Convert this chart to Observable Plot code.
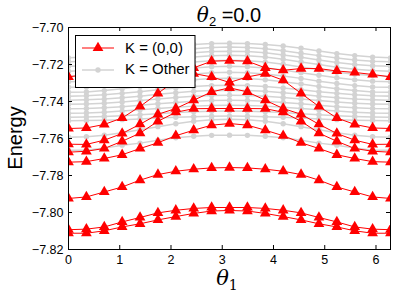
<!DOCTYPE html>
<html><head><meta charset="utf-8">
<script src="https://cdn.jsdelivr.net/npm/d3@7"></script>
<script src="https://cdn.jsdelivr.net/npm/@observablehq/plot@0.6"></script>
<style>html,body{margin:0;padding:0;background:#fff} svg{display:block}</style>
</head><body><div id="chart"></div>
<script>
// θ1 sample points (0 … 2π, 19 points)
const theta1 = [0, 0.349, 0.698, 1.047, 1.396, 1.745, 2.094, 2.443, 2.793, 3.142, 3.491, 3.840, 4.189, 4.538, 4.887, 5.236, 5.585, 5.934, 6.283];
const xTicks = [0, 1, 2, 3, 4, 5, 6];
const yTicks = [-7.82, -7.80, -7.78, -7.76, -7.74, -7.72, -7.70];

// K = (0,0) levels (red)
const red1 = [-7.8112, -7.8112, -7.8099, -7.8078, -7.8061, -7.8040, -7.8022, -7.8005, -7.7992, -7.7989, -7.7992, -7.8005, -7.8022, -7.8040, -7.8061, -7.8078, -7.8099, -7.8112, -7.8112];
const red2 = [-7.8093, -7.8090, -7.8078, -7.8051, -7.8027, -7.8002, -7.7988, -7.7978, -7.7973, -7.7973, -7.7973, -7.7978, -7.7988, -7.8002, -7.8027, -7.8051, -7.8078, -7.8090, -7.8093];
const red3 = [-7.7924, -7.7916, -7.7889, -7.7862, -7.7825, -7.7795, -7.7777, -7.7766, -7.7759, -7.7757, -7.7759, -7.7766, -7.7777, -7.7795, -7.7825, -7.7862, -7.7889, -7.7916, -7.7924];
const red4 = [-7.7728, -7.7725, -7.7708, -7.7688, -7.7654, -7.7623, -7.7585, -7.7555, -7.7528, -7.7519, -7.7528, -7.7555, -7.7585, -7.7623, -7.7654, -7.7688, -7.7708, -7.7725, -7.7728];
const red5 = [-7.7674, -7.7669, -7.7654, -7.7615, -7.7571, -7.7507, -7.7458, -7.7439, -7.7438, -7.7438, -7.7438, -7.7439, -7.7458, -7.7507, -7.7571, -7.7615, -7.7654, -7.7669, -7.7674];
const red6 = [-7.7631, -7.7632, -7.7609, -7.7573, -7.7523, -7.7469, -7.7438, -7.7393, -7.7348, -7.7326, -7.7348, -7.7393, -7.7438, -7.7469, -7.7523, -7.7573, -7.7609, -7.7632, -7.7631];
const red7 = [-7.7546, -7.7543, -7.7524, -7.7489, -7.7427, -7.7356, -7.7285, -7.7249, -7.7267, -7.7297, -7.7267, -7.7249, -7.7285, -7.7356, -7.7427, -7.7489, -7.7524, -7.7543, -7.7546];
const red8 = [-7.7267, -7.7254, -7.7243, -7.7235, -7.7222, -7.7222, -7.7231, -7.7218, -7.7182, -7.7179, -7.7182, -7.7218, -7.7231, -7.7222, -7.7222, -7.7235, -7.7243, -7.7254, -7.7267];

// K = Other levels (gray)
const gray1 = [-7.7164, -7.7160, -7.7152, -7.7141, -7.7127, -7.7112, -7.7100, -7.7092, -7.7087, -7.7085, -7.7087, -7.7092, -7.7100, -7.7112, -7.7127, -7.7141, -7.7152, -7.7160, -7.7164];
const gray2 = [-7.7185, -7.7183, -7.7176, -7.7165, -7.7152, -7.7139, -7.7126, -7.7115, -7.7108, -7.7106, -7.7108, -7.7115, -7.7126, -7.7139, -7.7152, -7.7165, -7.7176, -7.7183, -7.7185];
const gray3 = [-7.7209, -7.7207, -7.7200, -7.7189, -7.7176, -7.7161, -7.7148, -7.7137, -7.7130, -7.7128, -7.7130, -7.7137, -7.7148, -7.7161, -7.7176, -7.7189, -7.7200, -7.7207, -7.7209];
const gray4 = [-7.7236, -7.7233, -7.7226, -7.7215, -7.7200, -7.7186, -7.7172, -7.7160, -7.7153, -7.7150, -7.7153, -7.7160, -7.7172, -7.7186, -7.7200, -7.7215, -7.7226, -7.7233, -7.7236];
const gray5 = [-7.7263, -7.7260, -7.7253, -7.7242, -7.7227, -7.7213, -7.7199, -7.7187, -7.7180, -7.7177, -7.7180, -7.7187, -7.7199, -7.7213, -7.7227, -7.7242, -7.7253, -7.7260, -7.7263];
const gray6 = [-7.7293, -7.7290, -7.7283, -7.7272, -7.7258, -7.7244, -7.7230, -7.7219, -7.7212, -7.7209, -7.7212, -7.7219, -7.7230, -7.7244, -7.7258, -7.7272, -7.7283, -7.7290, -7.7293];
const gray7 = [-7.7323, -7.7321, -7.7314, -7.7303, -7.7290, -7.7275, -7.7262, -7.7251, -7.7244, -7.7242, -7.7244, -7.7251, -7.7262, -7.7275, -7.7290, -7.7303, -7.7314, -7.7321, -7.7323];
const gray8 = [-7.7350, -7.7348, -7.7341, -7.7331, -7.7319, -7.7305, -7.7293, -7.7283, -7.7276, -7.7274, -7.7276, -7.7283, -7.7293, -7.7305, -7.7319, -7.7331, -7.7341, -7.7348, -7.7350];
const gray9 = [-7.7371, -7.7369, -7.7364, -7.7356, -7.7347, -7.7336, -7.7327, -7.7319, -7.7314, -7.7312, -7.7314, -7.7319, -7.7327, -7.7336, -7.7347, -7.7356, -7.7364, -7.7369, -7.7371];
const gray10 = [-7.7393, -7.7391, -7.7387, -7.7380, -7.7371, -7.7361, -7.7353, -7.7345, -7.7341, -7.7339, -7.7341, -7.7345, -7.7353, -7.7361, -7.7371, -7.7380, -7.7387, -7.7391, -7.7393];
const gray11 = [-7.7415, -7.7413, -7.7409, -7.7403, -7.7395, -7.7386, -7.7378, -7.7372, -7.7367, -7.7366, -7.7367, -7.7372, -7.7378, -7.7386, -7.7395, -7.7403, -7.7409, -7.7413, -7.7415];
const gray12 = [-7.7439, -7.7438, -7.7434, -7.7428, -7.7420, -7.7412, -7.7405, -7.7398, -7.7394, -7.7393, -7.7394, -7.7398, -7.7405, -7.7412, -7.7420, -7.7428, -7.7434, -7.7438, -7.7439];
const gray13 = [-7.7463, -7.7462, -7.7458, -7.7452, -7.7445, -7.7438, -7.7431, -7.7425, -7.7421, -7.7420, -7.7421, -7.7425, -7.7431, -7.7438, -7.7445, -7.7452, -7.7458, -7.7462, -7.7463];
const gray14 = [-7.7485, -7.7484, -7.7481, -7.7477, -7.7471, -7.7466, -7.7460, -7.7456, -7.7453, -7.7452, -7.7453, -7.7456, -7.7460, -7.7466, -7.7471, -7.7477, -7.7481, -7.7484, -7.7485];
const gray15 = [-7.7504, -7.7503, -7.7501, -7.7498, -7.7494, -7.7489, -7.7485, -7.7482, -7.7480, -7.7479, -7.7480, -7.7482, -7.7485, -7.7489, -7.7494, -7.7498, -7.7501, -7.7503, -7.7504];
const gray16 = [-7.7593, -7.7590, -7.7582, -7.7569, -7.7553, -7.7536, -7.7520, -7.7507, -7.7499, -7.7496, -7.7499, -7.7507, -7.7520, -7.7536, -7.7553, -7.7569, -7.7582, -7.7590, -7.7593];
const gray17 = [-7.7663, -7.7663, -7.7652, -7.7636, -7.7625, -7.7609, -7.7596, -7.7588, -7.7583, -7.7582, -7.7583, -7.7588, -7.7596, -7.7609, -7.7625, -7.7636, -7.7652, -7.7663, -7.7663];

const redLevels = [red1, red2, red3, red4, red5, red6, red7, red8];
const grayLevels = [gray1, gray2, gray3, gray4, gray5, gray6, gray7, gray8, gray9, gray10, gray11, gray12, gray13, gray14, gray15, gray16, gray17];

function rows(levels) {
  return levels.flatMap((vals, i) => vals.map((e, j) => ({theta: theta1[j], energy: e, level: i})));
}
const redData = rows(redLevels);
const grayData = rows(grayLevels);

const W = 399, H = 299, mL = 68, mR = 9, mT = 27, mB = 50;
const fW = W - mL - mR, fH = H - mT - mB, tk = 4;
const RED = "#ff0000", GRAY = "#d3d3d3";
const TRI_R = 4;

const svgEl = Plot.plot({
  width: W, height: H,
  marginLeft: mL, marginRight: mR, marginTop: mT, marginBottom: mB,
  style: {fontFamily: "'Liberation Sans', Arial, sans-serif", fontSize: "12.5px", color: "black", background: "white"},
  x: {domain: [0, 2 * Math.PI], ticks: xTicks, tickFormat: d => String(d), tickSize: 0, tickPadding: 6, label: null},
  y: {domain: [-7.82, -7.70], ticks: yTicks, tickFormat: d => "\u2212" + Math.abs(d).toFixed(2), tickSize: 0, tickPadding: 5, label: null},
  marks: [
    Plot.line(grayData, {x: "theta", y: "energy", z: "level", stroke: GRAY, strokeWidth: 1.5, clip: true}),
    Plot.dot(grayData, {x: "theta", y: "energy", r: 2.7, fill: GRAY, stroke: "none", clip: true}),
    Plot.line(redData, {x: "theta", y: "energy", z: "level", stroke: RED, strokeWidth: 1, clip: true}),
    Plot.dot(redData, {x: "theta", y: "energy", symbol: "triangle", r: TRI_R, fill: RED, stroke: "none", clip: true}),
    Plot.tickX(xTicks, {x: d => d, insetTop: fH - tk, stroke: "black"}),
    Plot.tickX(xTicks, {x: d => d, insetBottom: fH - tk, stroke: "black"}),
    Plot.tickY(yTicks, {y: d => d, insetRight: fW - tk, stroke: "black"}),
    Plot.tickY(yTicks, {y: d => d, insetLeft: fW - tk, stroke: "black"}),
    Plot.frame({stroke: "black"})
  ]
});
document.getElementById("chart").appendChild(svgEl);

const svg = d3.select(svgEl);
const sans = "'Liberation Sans', Arial, sans-serif";
const serif = "'DejaVu Serif', 'Liberation Serif', serif";

// Title
const title = svg.append("text").attr("x", mL + fW / 2).attr("y", 22).attr("text-anchor", "middle")
  .style("font-family", sans).style("font-size", "20px").attr("fill", "black");
title.append("tspan").text("θ").style("font-family", serif).style("font-style", "italic");
title.append("tspan").text("2").style("font-size", "13px").attr("dy", 4);
title.append("tspan").text(" =0.0").attr("dy", -4);

// x label
const xl = svg.append("text").attr("x", mL + fW / 2 - 2).attr("y", 285).attr("text-anchor", "middle")
  .style("font-family", serif).style("font-size", "21px").attr("fill", "black");
xl.append("tspan").text("θ").style("font-style", "italic");
xl.append("tspan").text("1").style("font-size", "14px").attr("dy", 5);

// y label
svg.append("text").attr("transform", `translate(22,${mT + fH / 2}) rotate(-90)`).attr("text-anchor", "middle")
  .style("font-family", sans).style("font-size", "20px").attr("fill", "black").text("Energy");

// Legend
const lg = svg.append("g");
lg.append("rect").attr("x", 75.5).attr("y", 35.5).attr("width", 119.5).attr("height", 52)
  .attr("fill", "white").attr("stroke", "black");
lg.append("line").attr("x1", 82).attr("x2", 114).attr("y1", 48).attr("y2", 48).attr("stroke", RED).attr("stroke-width", 1);
lg.append("path").attr("d", d3.symbol(d3.symbolTriangle, Math.PI * TRI_R * TRI_R)()).attr("transform", "translate(98,48)").attr("fill", RED);
lg.append("line").attr("x1", 82).attr("x2", 114).attr("y1", 70).attr("y2", 70).attr("stroke", GRAY).attr("stroke-width", 1.5);
lg.append("circle").attr("cx", 98).attr("cy", 70).attr("r", 2.7).attr("fill", GRAY);
lg.append("text").attr("x", 125).attr("y", 48).attr("dy", "0.35em").attr("text-anchor", "start")
  .style("font-family", sans).style("font-size", "15px").text("K = (0,0)");
lg.append("text").attr("x", 125).attr("y", 69).attr("dy", "0.35em").attr("text-anchor", "start")
  .style("font-family", sans).style("font-size", "15px").text("K = Other");
</script>
</body></html>
